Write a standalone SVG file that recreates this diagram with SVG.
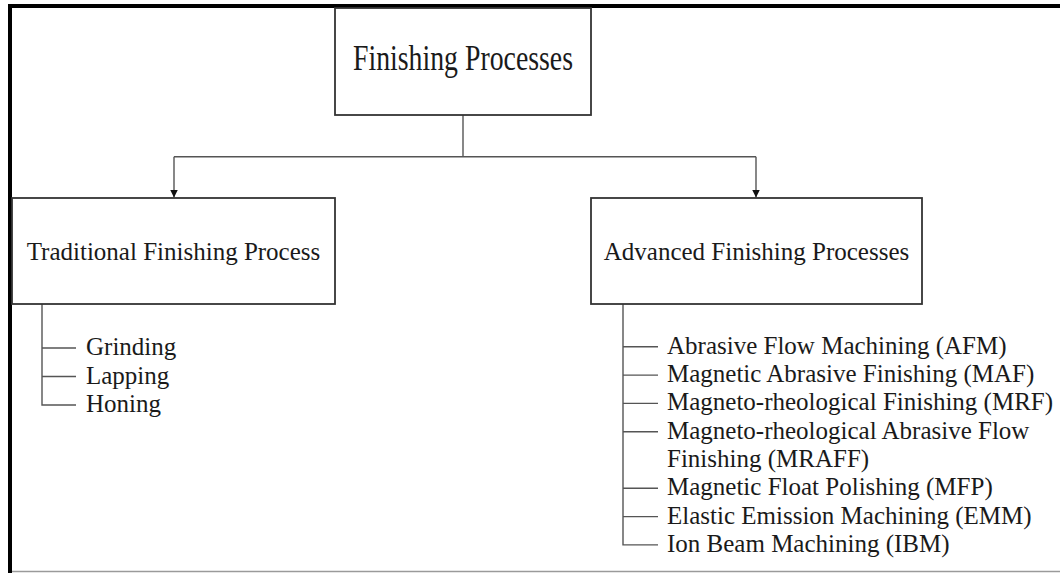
<svg xmlns="http://www.w3.org/2000/svg" width="1060" height="573" viewBox="0 0 1060 573">
  <defs>
    <style>
      .box { fill: #ffffff; stroke: #333333; stroke-width: 1.8; }
      .conn { fill: none; stroke: #555555; stroke-width: 1.4; }
      .lbl { font-family: "Liberation Serif", "Times New Roman", serif; font-size: 25px; fill: #1a1a1a; }
      .mid { text-anchor: middle; }
    </style>
    <marker id="arrow" viewBox="0 0 10 10" refX="10" refY="5" markerWidth="8" markerHeight="9" markerUnits="userSpaceOnUse" orient="auto">
      <path d="M0,0 L10,5 L0,10 Z" fill="#111111"/>
    </marker>
  </defs>

  <rect x="0" y="0" width="1060" height="573" fill="#ffffff"/>

  <!-- outer frame -->
  <g id="frame">
    <rect x="8" y="4" width="1052" height="4" fill="#000000"/>
    <rect x="8" y="4" width="4" height="569" fill="#000000"/>
    <line x1="12" y1="571.5" x2="1060" y2="571.5" stroke="#9a9a9a" stroke-width="1.5"/>
  </g>

  <!-- connectors -->
  <g id="connectors">
    <path class="conn" d="M463,115 V156.7"/>
    <path class="conn" d="M174,156.7 H756"/>
    <path class="conn" d="M174,156.7 V197.5" marker-end="url(#arrow)"/>
    <path class="conn" d="M756,156.7 V197.5" marker-end="url(#arrow)"/>
    <!-- traditional list -->
    <path class="conn" d="M42,304 V405 H76"/>
    <path class="conn" d="M42,348 H76 M42,376.5 H76"/>
    <!-- advanced list -->
    <path class="conn" d="M623,304 V544.9 H658"/>
    <path class="conn" d="M623,346.8 H658 M623,375.1 H658 M623,403.4 H658 M623,431.7 H658 M623,488.3 H658 M623,516.6 H658"/>
  </g>

  <g id="node-root">
    <rect class="box" x="335" y="8" width="256" height="107"/>
    <text class="lbl mid" x="463" y="70" style="font-size:36px" textLength="220" lengthAdjust="spacingAndGlyphs">Finishing Processes</text>
  </g>

  <g id="node-traditional">
    <rect class="box" x="12" y="198" width="323" height="106"/>
    <text class="lbl mid" x="173.5" y="260">Traditional Finishing Process</text>
  </g>

  <g id="node-advanced">
    <rect class="box" x="591" y="198" width="331" height="106"/>
    <text class="lbl mid" x="756.5" y="260">Advanced Finishing Processes</text>
  </g>

  <g id="list-traditional">
    <text class="lbl" x="86" y="355">Grinding</text>
    <text class="lbl" x="86" y="383.5">Lapping</text>
    <text class="lbl" x="86" y="412">Honing</text>
  </g>

  <g id="list-advanced">
    <text class="lbl" x="667" y="353.8">Abrasive Flow Machining (AFM)</text>
    <text class="lbl" x="667" y="382.1">Magnetic Abrasive Finishing (MAF)</text>
    <text class="lbl" x="667" y="410.4">Magneto-rheological Finishing (MRF)</text>
    <text class="lbl" x="667" y="438.7">Magneto-rheological Abrasive Flow</text>
    <text class="lbl" x="667" y="467">Finishing (MRAFF)</text>
    <text class="lbl" x="667" y="495.3">Magnetic Float Polishing (MFP)</text>
    <text class="lbl" x="667" y="523.6">Elastic Emission Machining (EMM)</text>
    <text class="lbl" x="667" y="551.9">Ion Beam Machining (IBM)</text>
  </g>
</svg>
